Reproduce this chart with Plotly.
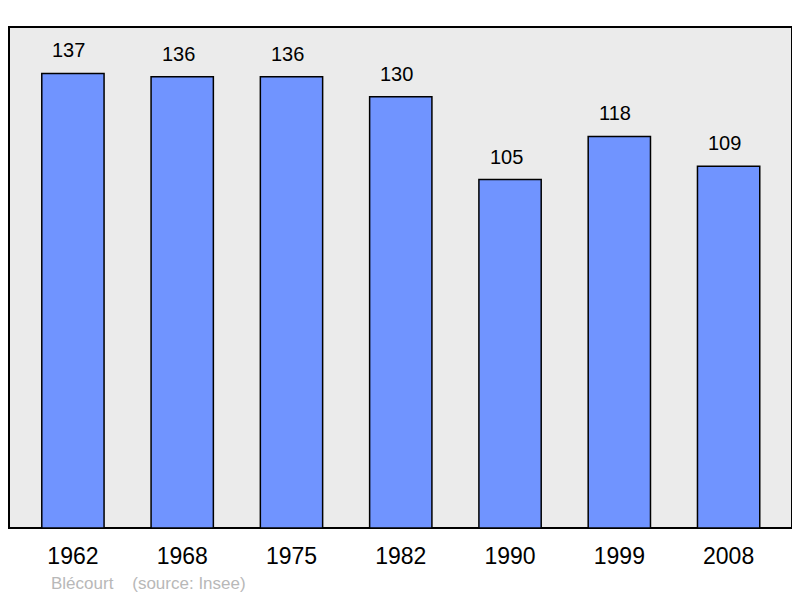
import plotly.graph_objects as go

years = ["1962", "1968", "1975", "1982", "1990", "1999", "2008"]
population = [137, 136, 136, 130, 105, 118, 109]

fig = go.Figure()

fig.add_trace(go.Bar(
    x=years, y=population,
    width=0.57,
    marker=dict(color="#7094ff", line=dict(color="#000000", width=1.5)),
    hoverinfo="x+y",
))

# value labels above the bars (category axis -> use category index)
for i, v in enumerate(population):
    fig.add_annotation(x=i, y=v, xref="x", yref="y", text=str(v), showarrow=False,
                       yanchor="bottom", yshift=10, xshift=-4,
                       font=dict(size=20, color="#000000"))

# plot background frame
fig.add_shape(type="rect", xref="paper", yref="paper", x0=0, x1=1, y0=0, y1=1,
              fillcolor="#ebebeb", line=dict(color="#000000", width=2), layer="below")

fig.add_annotation(text="Blécourt    (source: Insee)", xref="paper", yref="paper",
                   x=0.051, y=-0.11, xanchor="left", yanchor="middle", showarrow=False,
                   font=dict(size=17, color="#b8b8b8"))

fig.update_layout(
    width=792, height=590,
    margin=dict(l=1, r=8, t=19, b=70, autoexpand=False),
    paper_bgcolor="#ffffff",
    plot_bgcolor="rgba(0,0,0,0)",
    showlegend=False,
    font=dict(family="Liberation Sans, Arial", color="#000000"),
)
fig.update_xaxes(type="category", range=[-0.585, 6.58], showgrid=False, showline=False,
                 automargin=False, tickfont=dict(size=23), ticks="", ticklabelstandoff=12)
fig.update_yaxes(range=[0, 151], showgrid=False, zeroline=False, showticklabels=False,
                 showline=False, automargin=False)

fig.write_html("out.html")
